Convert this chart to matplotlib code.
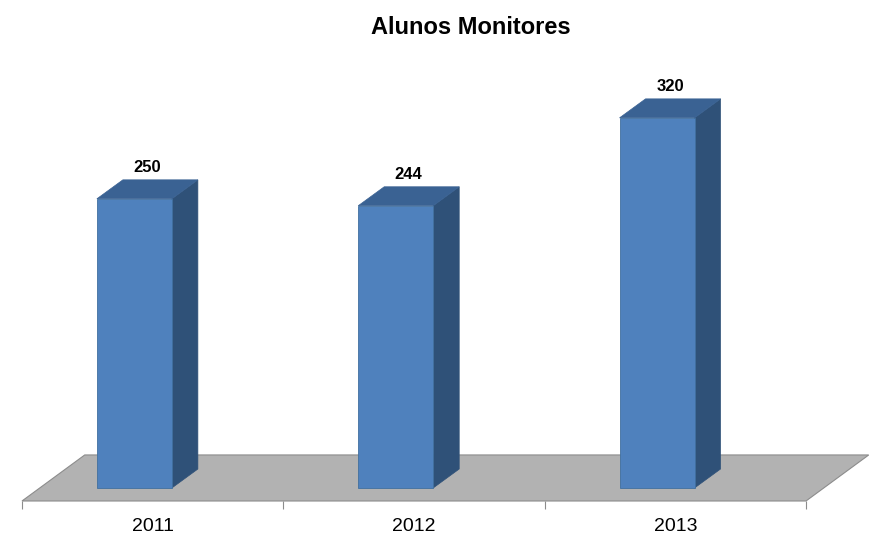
import numpy as np
import matplotlib
matplotlib.use('Agg')
from matplotlib import pyplot as plt
from matplotlib.patches import Polygon

plt.rcParams['font.family'] = ['Liberation Sans', 'DejaVu Sans']

# data
years = ['2011', '2012', '2013']
alunos = [250, 244, 320]

# 3d look
bar_w = 0.287
bar_off = -0.07          # bar center relative to category center
dep_x, dep_y = 0.0995, 16.4   # bar depth in data units
floor_dx, floor_dy = 0.24, 39.8
front_c = '#4F81BD'
side_c = '#2F5178'
top_c = '#3A6293'

fig = plt.figure(figsize=(8.75, 5.39), dpi=100)
ax = fig.add_axes([22/875, 38/539, 784/875, 441/539])
ax.set_xlim(0, len(years))
ax.set_ylim(-11.25, 370)

# floor
y0 = ax.get_ylim()[0]
n = len(years)
floor = Polygon([(0, y0), (n, y0), (n + floor_dx, y0 + floor_dy), (floor_dx, y0 + floor_dy)],
                closed=True, fc='#B2B2B2', ec='#8C8C8C', lw=0.8, clip_on=False, zorder=1)
ax.add_patch(floor)

xs = np.arange(n) + 0.5 + bar_off
ax.bar(xs, alunos, width=bar_w, color=front_c, edgecolor='#41709F', linewidth=0.6, zorder=3)
for x, v in zip(xs, alunos):
    l, r = x - bar_w/2, x + bar_w/2
    side = Polygon([(r, 0), (r + dep_x, dep_y), (r + dep_x, v + dep_y), (r, v)],
                   closed=True, fc=side_c, ec=side_c, lw=0.5, zorder=2)
    top = Polygon([(l, v), (r, v), (r + dep_x, v + dep_y), (l + dep_x, v + dep_y)],
                  closed=True, fc=top_c, ec=top_c, lw=0.5, zorder=2)
    ax.add_patch(side)
    ax.add_patch(top)
    ax.text(x + dep_x/2, v + dep_y + 4, str(v), ha='center', va='bottom',
            fontsize=12, fontweight='bold')

for s in ['top', 'right', 'left', 'bottom']:
    ax.spines[s].set_visible(False)
ax.set_yticks([])
ax.set_xticks(np.arange(n + 1))
ax.set_xticklabels([])
ax.tick_params(axis='x', which='major', length=6, color='#8C8C8C', width=0.8)
ax.set_xticks(np.arange(n) + 0.5, minor=True)
ax.set_xticklabels(years, minor=True, fontsize=14)
ax.tick_params(axis='x', which='minor', length=0, pad=12)

fig.text(471/875, 1 - 27/539, 'Alunos Monitores', ha='center', va='center',
         fontsize=17, fontweight='bold')

fig.savefig('out.png', dpi=100)
